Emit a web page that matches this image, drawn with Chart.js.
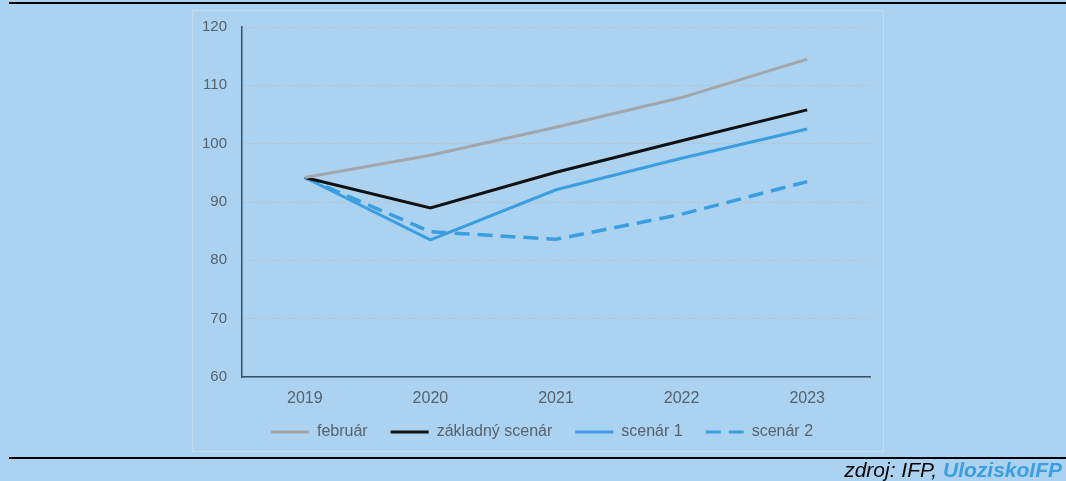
<!DOCTYPE html>
<html>
<head>
<meta charset="utf-8">
<script src="https://cdn.jsdelivr.net/npm/chart.js@4"></script>
<style>
  html, body { margin: 0; padding: 0; }
  body { width: 1066px; height: 481px; background: #abd3f1; position: relative; overflow: hidden; font-family: "Liberation Sans", Arial, sans-serif; }
  .rule { position: absolute; left: 9px; right: 0; height: 2px; background: #000; }
  #panel { position: absolute; left: 192px; top: 10px; width: 692px; height: 442px; box-sizing: border-box; border: 1px solid #c3dbec; }
  #wrap { position: absolute; left: 192px; top: 3px; width: 692px; height: 478px; }
  #source { position: absolute; right: 4px; top: 458px; font-size: 21px; font-style: italic; color: #000; }
  #source b { color: #3a9ee0; }
</style>
</head>
<body>
<div class="rule" style="top:2px"></div>
<div id="panel"></div>
<div id="wrap"><canvas id="line-chart"></canvas></div>
<div class="rule" style="top:457px"></div>
<div id="source">zdroj: IFP, <b>UloziskoIFP</b></div>
<script>
var years = ['2019', '2020', '2021', '2022', '2023'];
var februar = [94.2, 98.0, 102.8, 107.9, 114.5];
var zakladny = [94.2, 89.0, 95.1, 100.5, 105.8];
var scenar1 = [94.2, 83.5, 92.1, 97.5, 102.5];
var scenar2 = [94.2, 84.9, 83.6, 87.9, 93.5];

Chart.defaults.font.family = '"Liberation Sans", Arial, sans-serif';
Chart.defaults.color = '#56626e';

// legend sits centred on the whole panel and a bit tighter under the axis
var legendNudge = {
    id: 'legendNudge',
    afterLayout: function (chart) {
        var lg = chart.legend;
        lg.left += 11; lg.right += 11;
        lg.top -= 10; lg.bottom -= 10;
    }
};

new Chart(document.getElementById('line-chart'), {
    type: 'line',
    plugins: [legendNudge],
    data: {
        labels: years,
        datasets: [{
            label: 'február',
            data: februar,
            borderColor: '#a3a7ab',
            borderWidth: 3
        }, {
            label: 'základný scenár',
            data: zakladny,
            borderColor: '#111111',
            borderWidth: 3
        }, {
            label: 'scenár 1',
            data: scenar1,
            borderColor: '#3a9ee0',
            borderWidth: 3
        }, {
            label: 'scenár 2',
            data: scenar2,
            borderColor: '#3a9ee0',
            borderWidth: 3.5,
            borderDash: [15, 8]
        }]
    },
    options: {
        responsive: true,
        maintainAspectRatio: false,
        animation: false,
        elements: {
            point: { radius: 0 },
            line: { tension: 0, fill: false }
        },
        layout: {
            padding: { left: 0, right: 14, top: 0, bottom: 21 }
        },
        plugins: {
            tooltip: { enabled: false },
            legend: {
                position: 'bottom',
                labels: {
                    usePointStyle: true,
                    pointStyle: 'line',
                    pointStyleWidth: 38,
                    padding: 23,
                    color: '#56626e',
                    font: { size: 16 },
                    // point style legends lose the dataset dash, put it back
                    generateLabels: function (chart) {
                        var items = Chart.defaults.plugins.legend.labels.generateLabels(chart);
                        items.forEach(function (item) {
                            var ds = chart.data.datasets[item.datasetIndex];
                            item.lineDash = ds.borderDash || [];
                            item.lineWidth = 3;
                        });
                        return items;
                    }
                }
            }
        },
        scales: {
            x: {
                offset: true,
                grid: { display: false, drawTicks: false },
                border: { color: '#34506a', width: 1.5 },
                ticks: { padding: 12, font: { size: 16 } },
                afterFit: function (scale) { scale.height = 34; }
            },
            y: {
                min: 60,
                max: 120,
                ticks: { stepSize: 10, padding: 15, font: { size: 15 } },
                grid: { color: '#b9c2c9', drawTicks: false },
                border: { color: '#34506a', width: 1.5, dash: [3, 2] },
                afterFit: function (scale) { scale.width = 50; }
            }
        }
    }
});
</script>
</body>
</html>
